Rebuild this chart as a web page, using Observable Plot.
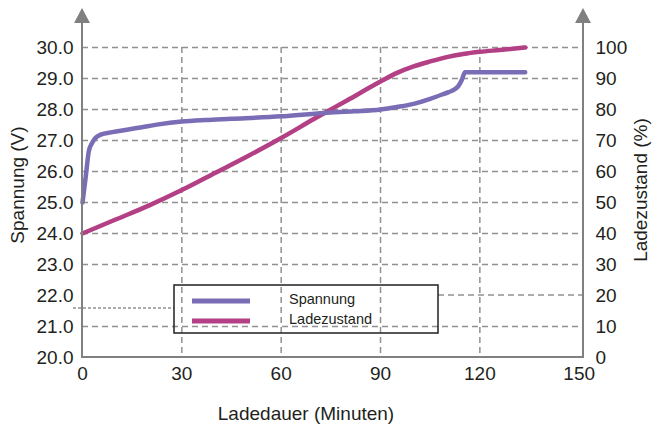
<!DOCTYPE html>
<html><head><meta charset="utf-8">
<script src="https://cdn.jsdelivr.net/npm/d3@7"></script>
<script src="https://cdn.jsdelivr.net/npm/@observablehq/plot@0.6"></script>
<style>body{margin:0;background:#fff} svg{display:block}</style>
</head><body><div id="chart"></div>
<script>
// Spannung (V) vs. Ladedauer (Minuten)
const minutesV = [0, 1, 1.9, 2.9, 3.9, 5.5, 9, 13, 18, 23, 30, 37, 45, 60, 73, 82, 90, 95, 100, 105, 108, 110.6, 112.5, 113.6, 114.6, 115.5, 120, 125, 133.7];
const spannung = [25.0, 25.85, 26.65, 26.92, 27.08, 27.19, 27.27, 27.34, 27.43, 27.52, 27.61, 27.66, 27.7, 27.78, 27.89, 27.94, 28.0, 28.08, 28.18, 28.34, 28.46, 28.56, 28.66, 28.77, 28.97, 29.2, 29.2, 29.2, 29.2];
// Ladezustand (%) vs. Ladedauer (Minuten)
const minutesS = [0, 10, 20, 30, 40, 50, 60, 70, 80, 90, 95, 100, 105, 110, 115, 120, 126, 133.7];
const ladezustand = [40, 44.5, 49, 54, 59.5, 65, 70.8, 77, 83, 89, 91.8, 93.9, 95.5, 96.9, 97.9, 98.6, 99.2, 100];

const xTicks = [0, 30, 60, 90, 120, 150];
const socTicks = [0, 10, 20, 30, 40, 50, 60, 70, 80, 90, 100];
const voltTicks = ["20.0", "21.0", "22.0", "23.0", "24.0", "25.0", "26.0", "27.0", "28.0", "29.0", "30.0"];
const seriesNames = ["Spannung", "Ladezustand"];
const seriesColors = ["#7b6cb6", "#b33f84"];

const vData = minutesV.map((m, i) => ({m, v: spannung[i]}));
const sData = minutesS.map((m, i) => ({m, s: ladezustand[i]}));
// voltage 20..30 V shares the 0..100 % vertical scale
const vToPct = v => (v - 20) * 10;

const gridCol = "#919191";
const gridStyle = {stroke: gridCol, strokeOpacity: 1, strokeWidth: 1.5, strokeDasharray: "6,4"};

const chart = Plot.plot({
  width: 656, height: 424,
  marginLeft: 82, marginRight: 73, marginTop: 47, marginBottom: 67,
  style: {fontFamily: "'Liberation Sans', Arial, sans-serif", fontSize: "19px", color: "#231f20", background: "#fff"},
  x: {domain: [0, 151.3]},
  y: {domain: [0, 100]},
  marks: [
    Plot.gridY(socTicks.filter(t => t !== 0 && t !== 20), gridStyle),
    Plot.gridX(xTicks.filter(t => t !== 0 && t !== 150), gridStyle),
    Plot.line(sData, {x: "m", y: "s", stroke: seriesColors[1], strokeWidth: 4.5, curve: "monotone-x"}),
    Plot.line(vData, {x: "m", y: d => vToPct(d.v), stroke: seriesColors[0], strokeWidth: 4.5, curve: "monotone-x"}),
    Plot.axisY(socTicks, {anchor: "left", tickSize: 0, tickPadding: 9, tickFormat: d => voltTicks[socTicks.indexOf(d)], label: null}),
    Plot.axisY(socTicks, {anchor: "right", tickSize: 0, tickPadding: 12, tickFormat: d => String(d), label: null}),
    Plot.axisX(xTicks, {anchor: "bottom", tickSize: 0, tickPadding: 9, tickFormat: d => String(d), label: null})
  ]
});
document.getElementById("chart").appendChild(chart);

// decorations: axis lines with arrows, titles, legend
const svg = d3.select(chart);
const xs = chart.scale("x"), ys = chart.scale("y");
const x0 = xs.range[0], x1 = xs.range[1];
const yB = ys.range[0];
const axisCol = "#808080";
const font = "'Liberation Sans', Arial, sans-serif";
const g = svg.append("g").attr("text-anchor", "start");

// partial / offset grid lines as in the original
g.append("line").attr("x1", 438).attr("x2", x1).attr("y1", ys.apply(20)).attr("y2", ys.apply(20))
  .attr("stroke", gridCol).attr("stroke-width", 1.5).attr("stroke-dasharray", "6,4");
g.append("line").attr("x1", 73).attr("x2", 174).attr("y1", 308).attr("y2", 308)
  .attr("stroke", gridCol).attr("stroke-width", 1.5).attr("stroke-dasharray", "3,2");

// axes
for (const ax of [x0, x1]) {
  g.append("line").attr("x1", ax).attr("x2", ax).attr("y1", 22).attr("y2", yB)
    .attr("stroke", axisCol).attr("stroke-width", 2);
  g.append("path").attr("d", `M${ax},8L${ax + 8},23L${ax - 8},23Z`).attr("fill", axisCol);
}
g.append("line").attr("x1", x0 - 1).attr("x2", x1 + 1).attr("y1", yB).attr("y2", yB)
  .attr("stroke", axisCol).attr("stroke-width", 2);

// titles
g.append("text").attr("transform", "translate(24,185) rotate(-90)").attr("text-anchor", "middle")
  .attr("font-family", font).attr("font-size", 19).attr("fill", "#231f20").text("Spannung (V)");
g.append("text").attr("transform", "translate(647,190) rotate(-90)").attr("text-anchor", "middle")
  .attr("font-family", font).attr("font-size", 19).attr("fill", "#231f20").text("Ladezustand (%)");
g.append("text").attr("x", 306).attr("y", 420).attr("text-anchor", "middle")
  .attr("font-family", font).attr("font-size", 19).attr("fill", "#231f20").text("Ladedauer (Minuten)");

// legend
g.append("rect").attr("x", 174).attr("y", 285).attr("width", 264).attr("height", 48)
  .attr("fill", "none").attr("stroke", "#231f20").attr("stroke-width", 1.5);
seriesNames.forEach((name, i) => {
  const y = 301 + i * 20;
  g.append("line").attr("x1", 192).attr("x2", 250).attr("y1", y).attr("y2", y)
    .attr("stroke", seriesColors[i]).attr("stroke-width", 5);
  g.append("text").attr("x", 289).attr("y", y + 3).attr("text-anchor", "start")
    .attr("font-family", font).attr("font-size", 14.5).attr("fill", "#231f20").text(name);
});
</script></body></html>
